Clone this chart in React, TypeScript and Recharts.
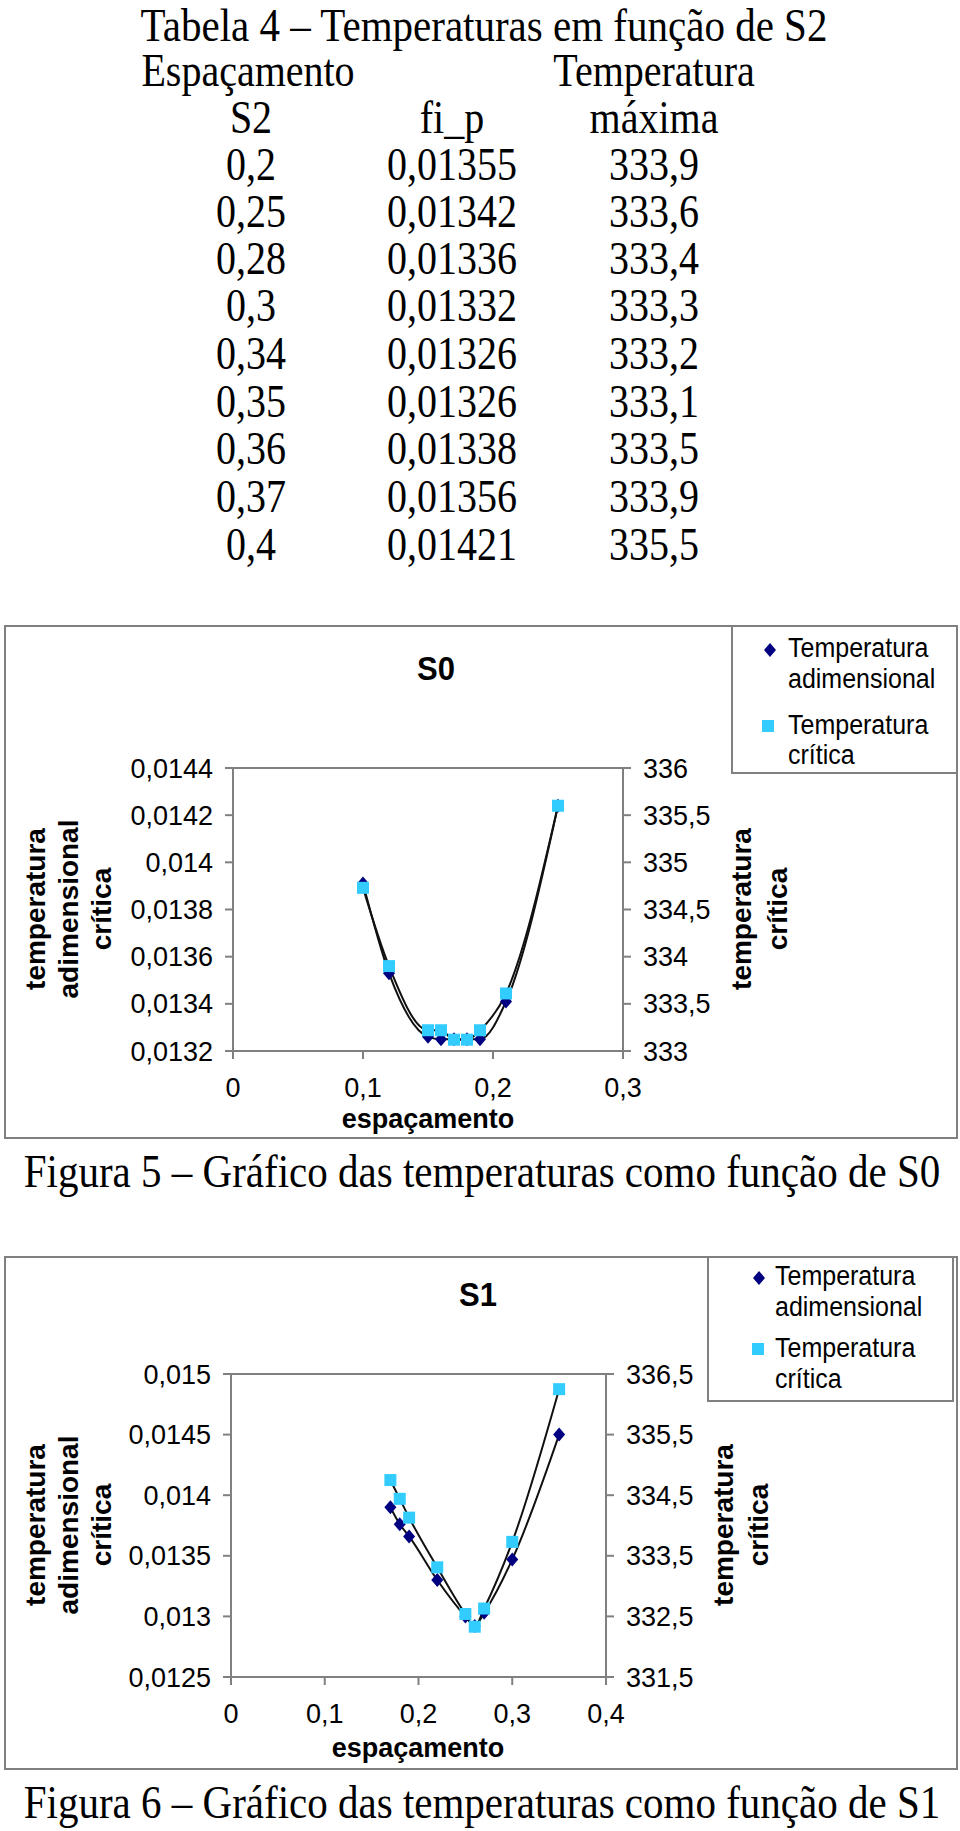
import React from 'react';
import { ComposedChart, Line, XAxis, YAxis, Legend, ReferenceLine } from 'recharts';

// Tabela 4 - S2
const tabS2 = [0.2, 0.25, 0.28, 0.3, 0.34, 0.35, 0.36, 0.37, 0.4];
const tabFiP = [0.01355, 0.01342, 0.01336, 0.01332, 0.01326, 0.01326, 0.01338, 0.01356, 0.01421];
const tabTmax = [333.9, 333.6, 333.4, 333.3, 333.2, 333.1, 333.5, 333.9, 335.5];

// Figura 5 - S0
const s0Esp = [0.1, 0.12, 0.15, 0.16, 0.17, 0.18, 0.19, 0.21, 0.25];
const s0Adim = [0.01391, 0.01353, 0.01326, 0.01325, 0.01325, 0.01325, 0.01325, 0.01341, 0.01424];
const s0Crit = [334.73, 333.9, 333.22, 333.22, 333.12, 333.12, 333.22, 333.61, 335.6];
const s0XTicks = [0, 0.1, 0.2, 0.3];
const s0LeftTicks = [0.0132, 0.0134, 0.0136, 0.0138, 0.014, 0.0142, 0.0144];
const s0RightTicks = [333, 333.5, 334, 334.5, 335, 335.5, 336];

// Figura 6 - S1
const s1Esp = [0.17, 0.18, 0.19, 0.22, 0.25, 0.26, 0.27, 0.3, 0.35];
const s1Adim = [0.0139, 0.01376, 0.01366, 0.0133, 0.013, 0.01292, 0.01303, 0.01347, 0.0145];
const s1Crit = [334.75, 334.44, 334.13, 333.31, 332.54, 332.33, 332.63, 333.73, 336.25];
const s1XTicks = [0, 0.1, 0.2, 0.3, 0.4];
const s1LeftTicks = [0.0125, 0.013, 0.0135, 0.014, 0.0145, 0.015];
const s1RightTicks = [331.5, 332.5, 333.5, 334.5, 335.5, 336.5];

const SANS = '"Liberation Sans", Arial, sans-serif';
const SERIF = '"Liberation Serif", "Times New Roman", serif';
const NAVY = '#000080';
const CYAN = '#33CCFF';
const GRAY = '#808080';

const fmt = (v: number) => String(v).replace('.', ',');

function Txt({ x, y, size, bold, serif, rotate, lh, sy, children }: any) {
  const stretch = sy ? ` scale(1, ${sy})` : '';
  return (
    <div
      style={{
        position: 'absolute',
        left: x,
        top: y,
        transform: `translate(-50%,-50%)${rotate ? ' rotate(-90deg)' : ''}${stretch}`,
        fontSize: size,
        fontWeight: bold ? 700 : 400,
        fontFamily: serif ? SERIF : SANS,
        whiteSpace: 'pre',
        textAlign: 'center',
        lineHeight: lh ? `${lh}px` : 1,
        color: '#000',
      }}
    >
      {children}
    </div>
  );
}

const diamond = (props: any) => {
  const { cx, cy, index } = props;
  return (
    <path
      key={`d${index}`}
      d={`M${cx},${cy - 7}L${cx + 6},${cy}L${cx},${cy + 7}L${cx - 6},${cy}Z`}
      fill={NAVY}
    />
  );
};

const square = (props: any) => {
  const { cx, cy, index } = props;
  return <rect key={`s${index}`} x={cx - 6} y={cy - 6} width={12} height={12} fill={CYAN} />;
};

function legendContent(lg: any) {
  return () => (
    <div
      style={{
        position: 'relative',
        width: lg.w,
        height: lg.h,
        boxSizing: 'border-box',
        border: `2px solid ${GRAY}`,
        background: '#fff',
        fontFamily: SANS,
        fontSize: 25,
        lineHeight: 1,
      }}
    >
      <svg style={{ position: 'absolute', left: 0, top: 0 }} width={lg.w} height={lg.h}>
        <path
          d={`M${lg.dx},${lg.dy - 7}L${lg.dx + 6},${lg.dy}L${lg.dx},${lg.dy + 7}L${lg.dx - 6},${lg.dy}Z`}
          fill={NAVY}
        />
        <rect x={lg.sx - 6} y={lg.sy - 6} width={12} height={12} fill={CYAN} />
      </svg>
      {[
        ['Temperatura', lg.l1],
        ['adimensional', lg.l2],
        ['Temperatura', lg.l3],
        ['crítica', lg.l4],
      ].map(([t, y]: any) => (
        <div
          key={t + y}
          style={{ position: 'absolute', left: lg.tx, top: y, transform: 'translateY(-50%) scale(1, 1.1)', transformOrigin: 'left center', whiteSpace: 'pre' }}
        >
          {t}
        </div>
      ))}
    </div>
  );
}

function TempChart({ top, esp, adim, crit, xDomain, xTicks, leftTicks, rightTicks, margin, leg }: any) {
  const data = esp.map((x: number, i: number) => ({ esp: x, adim: adim[i], crit: crit[i] }));
  const tickStyle = { fontSize: 27, fill: '#000', fontFamily: SANS };
  return (
    <div
      style={{
        position: 'absolute',
        left: 4,
        top,
        width: 954,
        height: 514,
        boxSizing: 'border-box',
        border: `2px solid ${GRAY}`,
        background: '#fff',
      }}
    >
      <ComposedChart width={950} height={510} data={data} margin={margin}>
        <XAxis
          dataKey="esp"
          type="number"
          domain={xDomain}
          ticks={xTicks}
          tickFormatter={fmt}
          stroke={GRAY}
          strokeWidth={2}
          tick={tickStyle}
          tickSize={8}
          tickMargin={19}
          height={60}
          interval={0}
        />
        <YAxis
          yAxisId="left"
          domain={[leftTicks[0], leftTicks[leftTicks.length - 1]]}
          ticks={leftTicks}
          tickFormatter={fmt}
          stroke={GRAY}
          strokeWidth={2}
          tick={tickStyle}
          tickSize={8}
          tickMargin={12}
          width={margin.lw}
          interval={0}
          allowDataOverflow
        />
        <YAxis
          yAxisId="right"
          orientation="right"
          domain={[rightTicks[0], rightTicks[rightTicks.length - 1]]}
          ticks={rightTicks}
          tickFormatter={fmt}
          stroke={GRAY}
          strokeWidth={2}
          tick={tickStyle}
          tickSize={8}
          tickMargin={12}
          width={120}
          interval={0}
          allowDataOverflow
        />
        <ReferenceLine yAxisId="left" y={leftTicks[leftTicks.length - 1]} stroke={GRAY} strokeWidth={2} />
        <Line
          yAxisId="left"
          dataKey="adim"
          name="Temperatura adimensional"
          type="monotone"
          stroke="#111"
          strokeWidth={2}
          dot={diamond}
          activeDot={false}
          isAnimationActive={false}
        />
        <Line
          yAxisId="right"
          dataKey="crit"
          name="Temperatura crítica"
          type="monotone"
          stroke="#111"
          strokeWidth={2}
          dot={square}
          activeDot={false}
          isAnimationActive={false}
        />
        <Legend
          layout="horizontal"
          verticalAlign="middle"
          align="center"
          content={legendContent(leg)}
          wrapperStyle={{ position: 'absolute', left: leg.x, top: leg.y, width: leg.w, height: leg.h }}
        />
      </ComposedChart>
    </div>
  );
}

export default function App() {
  const colX = [251, 452, 654];
  const rowY = [165, 212, 259, 306, 354, 402, 449, 497, 545];
  const ts = 40;
  const tsy = 1.18;
  return (
    <div style={{ position: 'absolute', left: 0, top: 0, width: 960, height: 1831, background: '#fff', overflow: 'hidden' }}>
      {/* Tabela 4 */}
      <Txt x={484} y={26} size={41} sy={1.12} serif>Tabela 4 – Temperaturas em função de S2</Txt>
      <Txt x={248} y={71} size={ts} sy={tsy} serif>Espaçamento</Txt>
      <Txt x={654} y={71} size={ts} sy={tsy} serif>Temperatura</Txt>
      <Txt x={colX[0]} y={118} size={ts} sy={tsy} serif>S2</Txt>
      <Txt x={colX[1]} y={118} size={ts} sy={tsy} serif>fi_p</Txt>
      <Txt x={colX[2]} y={118} size={ts} sy={tsy} serif>máxima</Txt>
      {tabS2.map((v, i) => (
        <React.Fragment key={i}>
          <Txt x={colX[0]} y={rowY[i]} size={ts} sy={tsy} serif>{fmt(v)}</Txt>
          <Txt x={colX[1]} y={rowY[i]} size={ts} sy={tsy} serif>{fmt(tabFiP[i])}</Txt>
          <Txt x={colX[2]} y={rowY[i]} size={ts} sy={tsy} serif>{fmt(tabTmax[i])}</Txt>
        </React.Fragment>
      ))}

      {/* Figura 5 */}
      <TempChart
        top={625}
        esp={s0Esp}
        adim={s0Adim}
        crit={s0Crit}
        xDomain={[0, 0.3]}
        xTicks={s0XTicks}
        leftTicks={s0LeftTicks}
        rightTicks={s0RightTicks}
        margin={{ top: 141, right: 213, bottom: 26, left: 0, lw: 227 }}
        leg={{ x: 725, y: -2, w: 227, h: 149, dx: 37, dy: 23, sx: 35, sy: 99, tx: 55, l1: 21, l2: 52, l3: 98, l4: 128 }}
      />
      <Txt x={436} y={668} size={31} sy={1.1} bold>S0</Txt>
      <Txt x={68} y={909} size={28} bold rotate lh={33}>{'temperatura\nadimensional\ncrítica'}</Txt>
      <Txt x={760} y={909} size={28} bold rotate lh={36}>{'temperatura\ncrítica'}</Txt>
      <Txt x={428} y={1119} size={27} bold>espaçamento</Txt>
      <Txt x={482} y={1171} size={41} sy={1.15} serif>Figura 5 – Gráfico das temperaturas como função de S0</Txt>

      {/* Figura 6 */}
      <TempChart
        top={1256}
        esp={s1Esp}
        adim={s1Adim}
        crit={s1Crit}
        xDomain={[0, 0.4]}
        xTicks={s1XTicks}
        leftTicks={s1LeftTicks}
        rightTicks={s1RightTicks}
        margin={{ top: 116, right: 230, bottom: 31, left: 0, lw: 225 }}
        leg={{ x: 701, y: -2, w: 247, h: 146, dx: 50, dy: 20, sx: 49, sy: 91, tx: 66, l1: 18, l2: 49, l3: 90, l4: 121 }}
      />
      <Txt x={478} y={1294} size={31} sy={1.1} bold>S1</Txt>
      <Txt x={68} y={1525} size={28} bold rotate lh={33}>{'temperatura\nadimensional\ncrítica'}</Txt>
      <Txt x={741} y={1525} size={28} bold rotate lh={35}>{'temperatura\ncrítica'}</Txt>
      <Txt x={418} y={1748} size={27} bold>espaçamento</Txt>
      <Txt x={482} y={1802} size={41} sy={1.15} serif>Figura 6 – Gráfico das temperaturas como função de S1</Txt>
    </div>
  );
}
